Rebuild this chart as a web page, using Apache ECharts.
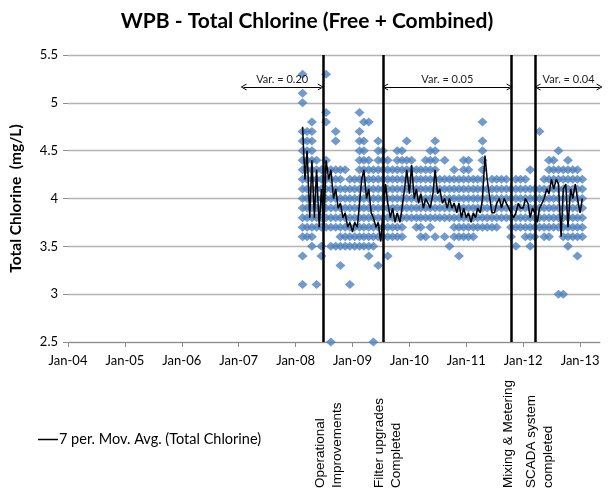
<!DOCTYPE html>
<html>
<head>
<meta charset="utf-8">
<title>WPB - Total Chlorine</title>
<script src="https://cdn.jsdelivr.net/npm/echarts@6/dist/echarts.min.js"></script>
<style>
  html, body { margin: 0; padding: 0; background: #fff; }
  #chart { width: 614px; height: 493px; }
</style>
</head>
<body>
<div id="chart"></div>
<script>
// monthly columns of total chlorine readings (mg/L)
const colDates = [
  '2008-02-15', '2008-03-15', '2008-04-15', '2008-05-15', '2008-06-15', '2008-07-15',
  '2008-08-15', '2008-09-15', '2008-10-15', '2008-11-15', '2008-12-15',
  '2009-01-15', '2009-02-15', '2009-03-15', '2009-04-15', '2009-05-15', '2009-06-15',
  '2009-07-15', '2009-08-15', '2009-09-15', '2009-10-15', '2009-11-15', '2009-12-15',
  '2010-01-15', '2010-02-15', '2010-03-15', '2010-04-15', '2010-05-15', '2010-06-15',
  '2010-07-15', '2010-08-15', '2010-09-15', '2010-10-15', '2010-11-15', '2010-12-15',
  '2011-01-15', '2011-02-15', '2011-03-15', '2011-04-15', '2011-05-15', '2011-06-15',
  '2011-07-15', '2011-08-15', '2011-09-15', '2011-10-15', '2011-11-15', '2011-12-15',
  '2012-01-15', '2012-02-15', '2012-03-15', '2012-04-15', '2012-05-15', '2012-06-15',
  '2012-07-15', '2012-08-15', '2012-09-15', '2012-10-15', '2012-11-15', '2012-12-15',
  '2013-01-15'
];
const colLevels = [
  [5.3, 5.1, 5.0, 4.7, 4.6, 4.5, 4.4, 4.3, 4.2, 4.1, 4.0, 3.9, 3.8, 3.7, 3.6, 3.4, 3.1],
  [4.7, 4.6, 4.5, 4.4, 4.3, 4.2, 4.1, 4.0, 3.9, 3.8, 3.7, 3.6],
  [4.8, 4.7, 4.6, 4.5, 4.4, 4.3, 4.2, 4.1, 4.0, 3.9, 3.8, 3.7, 3.6, 3.5],
  [4.4, 4.3, 4.2, 4.1, 4.0, 3.9, 3.8, 3.7, 3.1],
  [4.3, 4.2, 4.1, 4.0, 3.9, 3.8, 3.7, 3.5, 3.4],
  [5.3, 4.9, 4.8, 4.4, 4.3, 4.2, 4.1, 4.0, 3.9, 3.8, 3.7],
  [4.3, 4.2, 4.1, 4.0, 3.9, 3.8, 3.7, 3.5, 2.5],
  [4.7, 4.6, 4.3, 4.2, 4.1, 4.0, 3.9, 3.8, 3.7, 3.5],
  [4.3, 4.2, 4.1, 4.0, 3.9, 3.8, 3.7, 3.6, 3.5, 3.3],
  [4.3, 4.1, 4.0, 3.9, 3.8, 3.7, 3.6, 3.5],
  [4.2, 4.1, 4.0, 3.9, 3.8, 3.7, 3.6, 3.5, 3.1],
  [4.2, 4.1, 4.0, 3.9, 3.8, 3.7, 3.6, 3.5],
  [4.9, 4.7, 4.6, 4.5, 4.4, 4.3, 4.2, 4.1, 4.0, 3.9, 3.8, 3.7, 3.6, 3.5],
  [4.8, 4.6, 4.5, 4.4, 4.3, 4.2, 4.1, 4.0, 3.9, 3.8, 3.7, 3.6, 3.5],
  [4.8, 4.4, 4.3, 4.2, 4.1, 4.0, 3.9, 3.8, 3.7, 3.6, 3.5, 3.4],
  [4.3, 4.2, 4.1, 4.0, 3.9, 3.8, 3.7, 3.6, 3.5, 2.5],
  [4.6, 4.5, 4.4, 4.3, 4.2, 4.1, 4.0, 3.9, 3.8, 3.7, 3.6, 3.3],
  [4.5, 4.4, 4.3, 4.2, 4.1, 4.0, 3.9, 3.8, 3.7, 3.6],
  [4.4, 4.3, 4.2, 4.1, 4.0, 3.9, 3.8, 3.7, 3.6, 3.4],
  [4.3, 4.2, 4.1, 4.0, 3.9, 3.8, 3.7, 3.6],
  [4.5, 4.4, 4.3, 4.2, 4.1, 4.0, 3.9, 3.8, 3.7, 3.6],
  [4.5, 4.4, 4.3, 4.2, 4.1, 4.0, 3.9, 3.8, 3.7, 3.6],
  [4.6, 4.4, 4.3, 4.2, 4.1, 4.0, 3.9, 3.8],
  [4.4, 4.3, 4.2, 4.1, 4.0, 3.9, 3.8],
  [4.3, 4.2, 4.1, 4.0, 3.9, 3.8, 3.7],
  [4.3, 4.2, 4.1, 4.0, 3.9, 3.8, 3.7, 3.6],
  [4.4, 4.3, 4.2, 4.1, 4.0, 3.9, 3.8, 3.6],
  [4.5, 4.4, 4.3, 4.2, 4.1, 4.0, 3.9, 3.8, 3.7],
  [4.6, 4.5, 4.4, 4.3, 4.2, 4.1, 4.0, 3.9, 3.8, 3.6],
  [4.2, 4.1, 4.0, 3.9, 3.8],
  [4.4, 4.2, 4.1, 4.0, 3.9, 3.8, 3.6],
  [4.2, 4.1, 4.0, 3.9, 3.8, 3.5],
  [4.3, 4.2, 4.1, 4.0, 3.9, 3.8, 3.7, 3.6],
  [4.2, 4.1, 4.0, 3.9, 3.8, 3.7, 3.6, 3.4],
  [4.4, 4.3, 4.2, 4.1, 4.0, 3.9, 3.8, 3.7, 3.6],
  [4.4, 4.3, 4.2, 4.1, 4.0, 3.9, 3.8, 3.7, 3.6],
  [4.2, 4.1, 4.0, 3.9, 3.8, 3.7, 3.6],
  [4.2, 4.1, 4.0, 3.9, 3.8, 3.7],
  [4.8, 4.6, 4.5, 4.4, 4.3, 4.2, 4.1, 4.0, 3.9, 3.8, 3.7],
  [4.1, 4.0, 3.9, 3.8, 3.7],
  [4.2, 4.1, 4.0, 3.9, 3.8, 3.7],
  [4.2, 4.1, 4.0, 3.9, 3.8, 3.7],
  [4.2, 4.1, 4.0, 3.9, 3.8],
  [4.2, 4.1, 4.0, 3.9, 3.8],
  [4.1, 4.0, 3.9, 3.8, 3.7, 3.6],
  [4.2, 4.1, 4.0, 3.9, 3.8, 3.7, 3.5],
  [4.2, 4.1, 4.0, 3.9, 3.8, 3.7],
  [4.2, 4.1, 4.0, 3.9, 3.8, 3.7, 3.6],
  [4.3, 4.1, 4.0, 3.9, 3.8, 3.7, 3.6, 3.5],
  [4.1, 4.0, 3.9, 3.8, 3.7, 3.6],
  [4.7, 4.1, 4.0, 3.9, 3.8, 3.7],
  [4.2, 4.1, 4.0, 3.9, 3.8, 3.7, 3.6],
  [4.4, 4.3, 4.2, 4.1, 4.0, 3.9, 3.8, 3.7, 3.6],
  [4.4, 4.3, 4.2, 4.1, 4.0, 3.9, 3.8, 3.7],
  [4.5, 4.3, 4.2, 4.1, 4.0, 3.9, 3.8, 3.7, 3.0],
  [4.3, 4.2, 4.1, 4.0, 3.9, 3.8, 3.7, 3.6, 3.0],
  [4.4, 4.3, 4.2, 4.1, 4.0, 3.9, 3.8, 3.7, 3.6, 3.5],
  [4.3, 4.2, 4.1, 4.0, 3.9, 3.8, 3.7, 3.6],
  [4.3, 4.2, 4.1, 4.0, 3.9, 3.8, 3.7, 3.6, 3.4],
  [4.2, 4.1, 4.0, 3.9, 3.8, 3.7, 3.6]
];

// 7 per. moving average
const maDates = [
  '2008-02-15', '2008-03-01', '2008-03-15', '2008-04-01', '2008-04-15', '2008-05-01', '2008-05-15',
  '2008-06-01', '2008-06-15', '2008-07-01', '2008-07-15', '2008-08-01', '2008-08-15', '2008-09-01',
  '2008-09-15', '2008-10-01', '2008-10-15', '2008-11-01', '2008-11-15', '2008-12-01', '2008-12-15',
  '2009-01-01', '2009-01-15', '2009-02-01', '2009-02-15', '2009-03-01', '2009-03-15', '2009-04-01',
  '2009-04-15', '2009-05-01', '2009-05-15', '2009-06-01', '2009-06-15', '2009-07-01', '2009-07-15',
  '2009-08-01', '2009-08-15', '2009-09-01', '2009-09-15', '2009-10-01', '2009-10-15', '2009-11-01',
  '2009-11-15', '2009-12-01', '2009-12-15',
  '2010-01-01', '2010-01-15', '2010-02-01', '2010-02-15', '2010-03-01', '2010-03-15', '2010-04-01',
  '2010-04-15', '2010-05-01', '2010-05-15', '2010-06-01', '2010-06-15', '2010-07-01', '2010-07-15',
  '2010-08-01', '2010-08-15', '2010-09-01', '2010-09-15', '2010-10-01', '2010-10-15', '2010-11-01',
  '2010-11-15', '2010-12-01', '2010-12-15',
  '2011-01-01', '2011-01-15', '2011-02-01', '2011-02-15', '2011-03-01', '2011-03-15', '2011-04-01',
  '2011-04-15', '2011-05-01', '2011-05-15', '2011-06-01', '2011-06-15', '2011-07-01', '2011-07-15',
  '2011-08-01', '2011-08-15', '2011-09-01', '2011-09-15', '2011-10-01', '2011-10-15', '2011-11-01',
  '2011-11-15', '2011-12-01', '2011-12-15',
  '2012-01-01', '2012-01-15', '2012-02-01', '2012-02-15', '2012-03-01', '2012-03-15', '2012-04-01',
  '2012-04-15', '2012-05-01', '2012-05-15', '2012-06-01', '2012-06-15', '2012-07-01', '2012-07-15',
  '2012-08-01', '2012-08-15', '2012-09-01', '2012-09-15', '2012-10-01', '2012-10-15', '2012-11-01',
  '2012-11-15', '2012-12-01', '2012-12-15', '2013-01-01', '2013-01-15'
];
const maValues = [
  4.75, 4.2, 4.5, 3.8, 4.4, 3.8, 4.3,
  3.7, 4.1, 3.7, 4.4, 4.2, 4.3, 4.0,
  4.1, 3.9, 3.95, 3.8, 3.85, 3.7, 3.75,
  3.65, 3.75, 3.7, 3.95, 4.2, 4.3, 4.0,
  4.1, 3.85, 3.8, 3.7, 3.75, 3.55, 3.85,
  4.15, 3.95, 3.8, 3.9, 3.75, 3.85, 3.75,
  3.9, 4.1, 4.3,
  4.05, 4.35, 4.0, 4.1, 3.95, 4.05, 3.9,
  4.0, 3.95, 3.9, 4.05, 4.3, 4.05, 4.1,
  3.95, 4.0, 3.9, 4.0, 3.9, 3.95, 3.85,
  3.95, 3.8, 3.9,
  3.8, 3.85, 3.75, 3.85, 3.8, 3.9, 3.85,
  4.0, 4.45, 4.2, 4.0, 3.85, 3.85, 3.95,
  4.0, 3.9, 4.0, 3.95, 3.9, 3.85, 3.8,
  3.85, 3.95, 3.9,
  3.9, 4.0, 3.95, 3.8, 3.9, 3.85, 3.75,
  3.9, 3.95, 4.0, 4.1, 4.05, 4.2, 4.1,
  4.2, 4.15, 3.6, 4.1, 4.15, 3.7, 4.1,
  4.0, 4.15, 4.0, 3.85, 4.0
];

const yearTicks = [2004, 2005, 2006, 2007, 2008, 2009, 2010, 2011, 2012, 2013];
const xTickLabels = ['Jan-04', 'Jan-05', 'Jan-06', 'Jan-07', 'Jan-08', 'Jan-09', 'Jan-10', 'Jan-11', 'Jan-12', 'Jan-13'];

// project milestones (vertical lines) and their captions
const eventDates = ['2008-06-30', '2009-07-16', '2011-10-16', '2012-03-20'];
const eventLabels = ['Operational\nImprovements', 'Filter upgrades\nCompleted', 'Mixing & Metering', 'SCADA system\ncompleted'];

// variance arrows between milestones
const varLabels = ['Var. = 0.20', 'Var. = 0.05', 'Var. = 0.04'];
const varFrom = ['2007-02-01', '2009-07-29', '2012-04-02'];
const varTo = ['2008-06-11', '2011-10-06', '2013-05-06'];

const maName = '7 per. Mov. Avg. (Total Chlorine)';

function toYear(s) {
  const [y, m, d] = s.split('-').map(Number);
  const start = Date.UTC(y, 0, 1);
  const end = Date.UTC(y + 1, 0, 1);
  return y + (Date.UTC(y, m - 1, d) - start) / (end - start);
}

const scatterData = [];
colDates.forEach((d, i) => {
  colLevels[i].forEach((v) => scatterData.push([toYear(d), v]));
});
const maData = maDates.map((d, i) => [toYear(d), maValues[i]]);

const chevron = 'path://M0,10 L5,0 L10,10 L8.6,10 L5,2.8 L1.4,10 Z';
const labelFont = 'Lato';

const chart = echarts.init(document.getElementById('chart'));

chart.setOption({
  animation: false,
  title: {
    text: 'WPB - Total Chlorine (Free + Combined)',
    left: 'center',
    top: 6,
    textStyle: { fontFamily: labelFont, fontSize: 21, fontWeight: 'bold', color: '#000' },
  },
  legend: {
    data: [maName],
    left: 33,
    top: 427,
    icon: 'rect',
    itemWidth: 20,
    itemHeight: 1.5,
    textStyle: { fontFamily: labelFont, fontSize: 14.5, color: '#000', padding: [0, 0, 0, -4] },
  },
  grid: { left: 62, right: 14, top: 55, bottom: 151 },
  xAxis: {
    type: 'value',
    min: 2004,
    max: 2013.35,
    interval: 1,
    axisLine: { lineStyle: { color: '#8c8c8c', width: 1 } },
    axisTick: { customValues: yearTicks, length: 5, lineStyle: { color: '#8c8c8c' } },
    axisLabel: {
      customValues: yearTicks,
      formatter: (v) => xTickLabels[yearTicks.indexOf(Math.round(v))],
      fontFamily: labelFont,
      fontSize: 13,
      color: '#000',
      margin: 12,
    },
    splitLine: { show: false },
  },
  yAxis: {
    type: 'value',
    min: 2.5,
    max: 5.5,
    interval: 0.5,
    name: 'Total Chlorine  (mg/L)',
    nameLocation: 'middle',
    nameGap: 44,
    nameTextStyle: { fontFamily: labelFont, fontSize: 15.5, fontWeight: 'bold', color: '#000' },
    axisLine: { show: false },
    axisTick: { show: true, length: 5, lineStyle: { color: '#8c8c8c' } },
    axisLabel: { fontFamily: labelFont, fontSize: 13, color: '#000', margin: 10 },
    splitLine: { lineStyle: { color: '#b4b4b4', width: 1.3 } },
  },
  series: [
    {
      name: 'Total Chlorine',
      type: 'scatter',
      data: scatterData,
      symbol: 'diamond',
      symbolSize: [10, 9],
      itemStyle: { color: '#4F81BD' },
      z: 2,
    },
    {
      name: maName,
      type: 'line',
      data: maData,
      showSymbol: false,
      lineStyle: { color: '#000', width: 1.5 },
      itemStyle: { color: '#000' },
      z: 3,
    },
    {
      name: 'milestones',
      type: 'line',
      data: [],
      z: 4,
      markLine: {
        silent: true,
        symbol: 'none',
        label: { show: false },
        lineStyle: { color: '#000', width: 2.5, type: 'solid' },
        data: eventDates.map((d) => ({ xAxis: toYear(d) })),
      },
    },
    {
      name: 'variance',
      type: 'line',
      data: [],
      clip: false,
      z: 4,
      markLine: {
        silent: true,
        symbol: [chevron, chevron],
        symbolSize: [7, 6],
        lineStyle: { color: '#000', width: 1, type: 'solid' },
        label: {
          show: true,
          position: 'middle',
          distance: 2,
          fontFamily: labelFont,
          fontSize: 11,
          color: '#222',
          formatter: (p) => p.name,
        },
        data: varLabels.map((t, i) => [
          { name: t, coord: [toYear(varFrom[i]), 5.165] },
          { coord: [toYear(varTo[i]), 5.165] },
        ]),
      },
    },
  ],
});

// captions under the milestone lines, written bottom to top
const captionShift = [5.5, 5, -2.5, 4];
chart.setOption({
  graphic: eventDates.map((d, i) => ({
    type: 'text',
    x: chart.convertToPixel({ xAxisIndex: 0 }, toYear(d)) + captionShift[i],
    y: 488,
    rotation: Math.PI / 2,
    style: {
      text: eventLabels[i],
      fontFamily: 'Liberation Sans',
      fontSize: 13.5,
      lineHeight: 17,
      fill: '#000',
      align: 'left',
      verticalAlign: 'middle',
    },
  })),
});
</script>
</body>
</html>
